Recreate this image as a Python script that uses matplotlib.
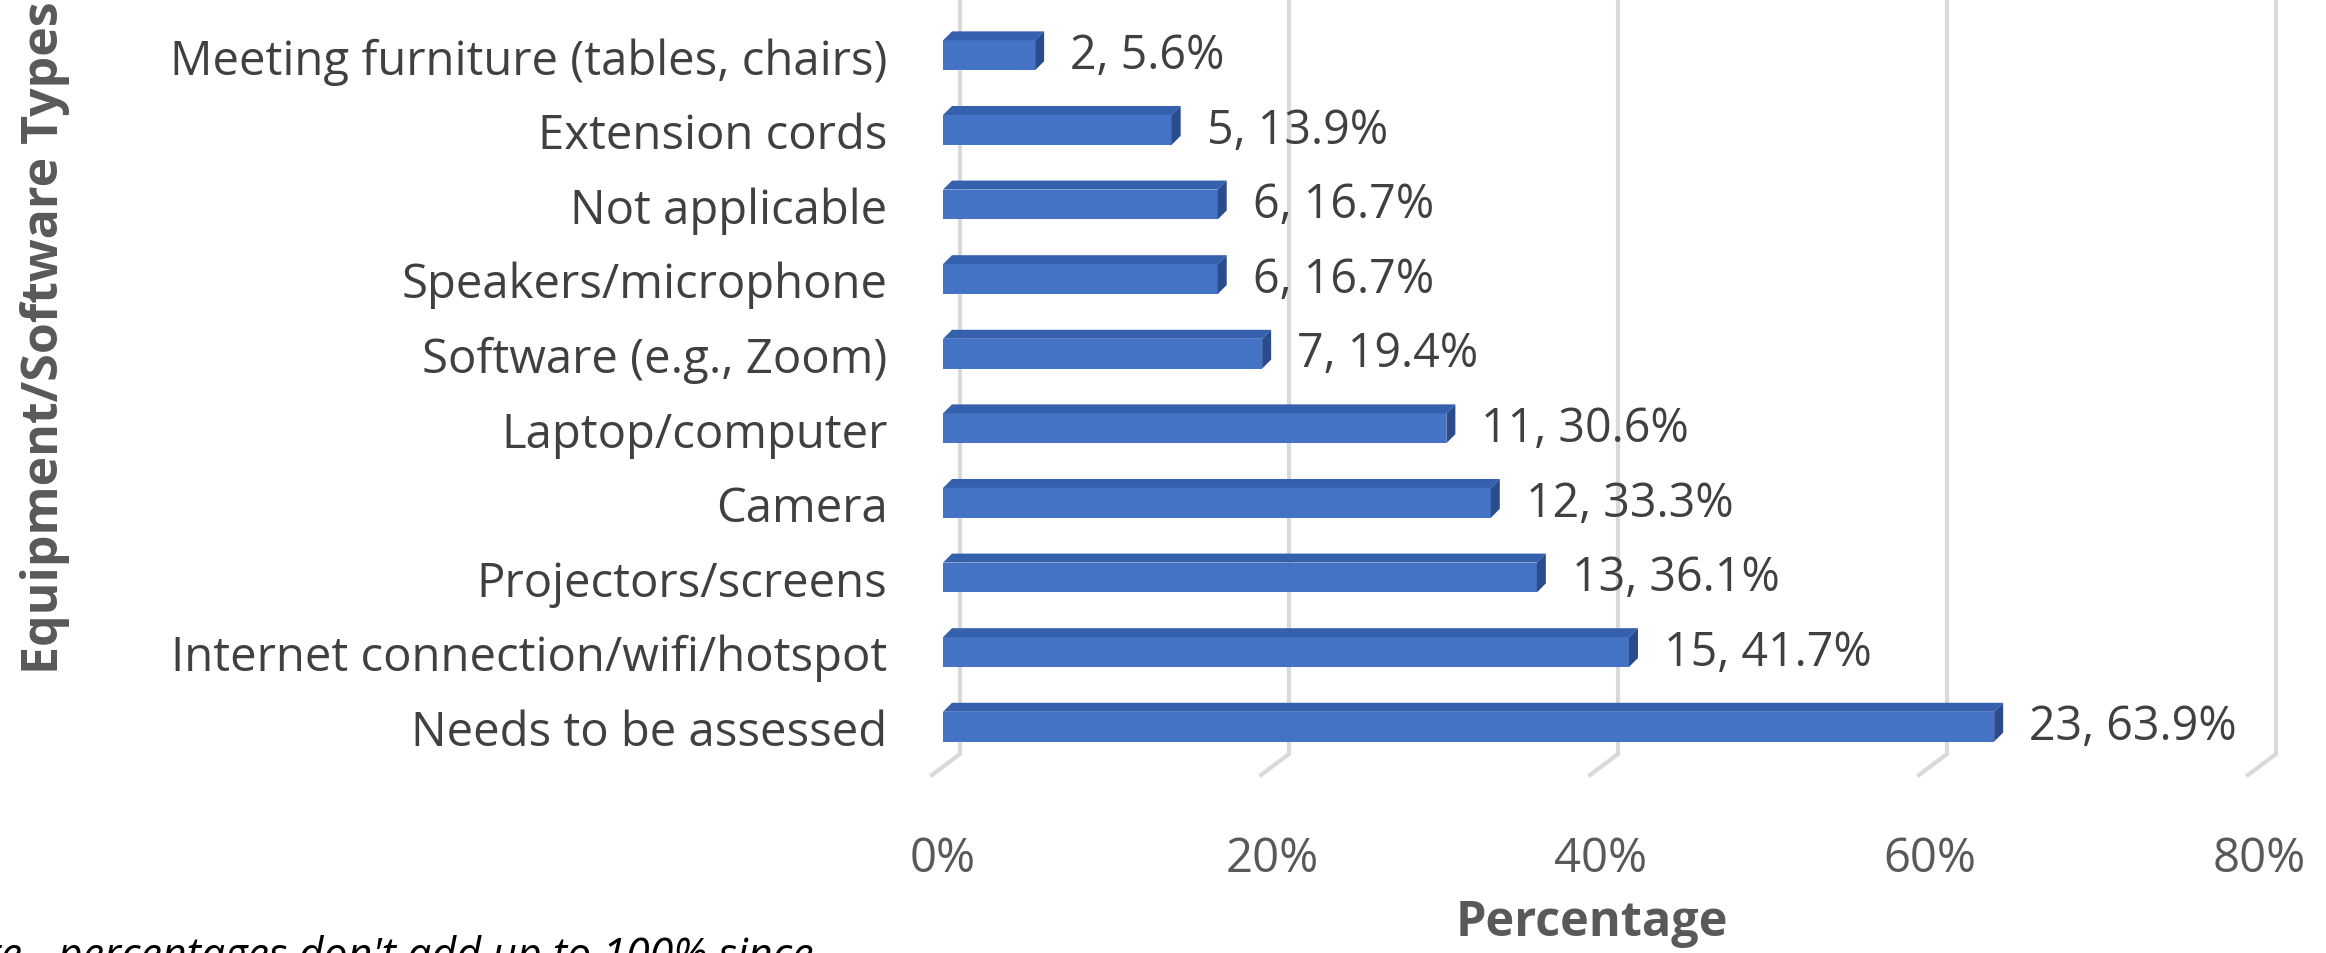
import numpy as np
import matplotlib.pyplot as plt
from matplotlib.patches import Polygon

plt.rcParams['font.family'] = ['Open Sans', 'DejaVu Sans']

# data, bottom to top as drawn
categories = ["Needs to be assessed", "Internet connection/wifi/hotspot", "Projectors/screens",
              "Camera", "Laptop/computer", "Software (e.g., Zoom)", "Speakers/microphone",
              "Not applicable", "Extension cords", "Meeting furniture (tables, chairs)"]
counts = [23, 15, 13, 12, 11, 7, 6, 6, 5, 2]
percents = [63.9, 41.7, 36.1, 33.3, 30.6, 19.4, 16.7, 16.7, 13.9, 5.6]
x_ticks = [0, 20, 40, 60, 80]

W, H = 2326, 954
fig = plt.figure(figsize=(W / 100, H / 100), dpi=100)
# axes box in pixels: front plane of the bars
left, right, top, bottom = 943, 2259, 19, 765
ax = fig.add_axes([left / W, (H - bottom) / H, (right - left) / W, (bottom - top) / H])
ax.set_xlim(0, 80)
ax.set_ylim(-0.5, 9.5)

px_x = (right - left) / 80.0   # pixels per percent
px_y = (bottom - top) / 10.0   # pixels per category
bar_h = 0.40
dx, dy = 9 / px_x, 9 / px_y    # 3d depth of the bars
gx = 17 / px_x                 # grid lines sit on the back wall

front = "#4472C4"
topc = "#3560AE"
side = "#2B4C8C"
grid = "#D9D9D9"
txt = "#404040"

# gridlines with the little floor stub
for t in x_ticks:
    y_top = 9.5 + top / px_y
    y_low = -0.5 + 10 / px_y
    ax.plot([t + gx, t + gx, t + gx - 28 / px_x], [y_top, y_low, y_low - 21 / px_y],
            color=grid, lw=3, clip_on=False, zorder=1, solid_joinstyle='miter')

y = np.arange(len(categories))
ax.barh(y, percents, height=bar_h, color=front, zorder=3)
for yi, p in zip(y, percents):
    t = yi + bar_h / 2
    b = yi - bar_h / 2
    ax.add_patch(Polygon([(0, t), (p, t), (p + dx, t + dy), (dx, t + dy)],
                         closed=True, color=topc, zorder=3, lw=0))
    ax.add_patch(Polygon([(p, b), (p, t), (p + dx, t + dy), (p + dx, b + dy)],
                         closed=True, color=side, zorder=3, lw=0))

for yi, p, c in zip(y, percents, counts):
    ax.text(p + 35 / px_x, yi, f"{c}, {p}%", va='center', ha='left',
            fontsize=33.5, color=txt, zorder=4)

ax.set_yticks(y)
ax.set_yticklabels(categories)
ax.set_xticks(x_ticks)
ax.set_xticklabels([f"{t}%" for t in x_ticks])
ax.tick_params(axis='y', length=0, pad=40, labelsize=34, labelcolor=txt)
ax.tick_params(axis='x', length=0, pad=51, labelsize=34, labelcolor="#595959")
for s in ax.spines.values():
    s.set_visible(False)

fig.text(1592 / W, 1 - 924 / H, "Percentage", ha='center', va='center',
         fontsize=35, fontweight='bold', color="#595959")
fig.text(45 / W, 1 - 338 / H, "Equipment/Software Types", ha='center', va='center',
         rotation=90, fontsize=36, fontweight='bold', color="#595959")
fig.text(813 / W, 1 - 935 / H, "Note - percentages don't add up to 100% since",
         ha='right', va='top', fontsize=31, style='italic', color="black")

fig.savefig("out.png", dpi=100)
